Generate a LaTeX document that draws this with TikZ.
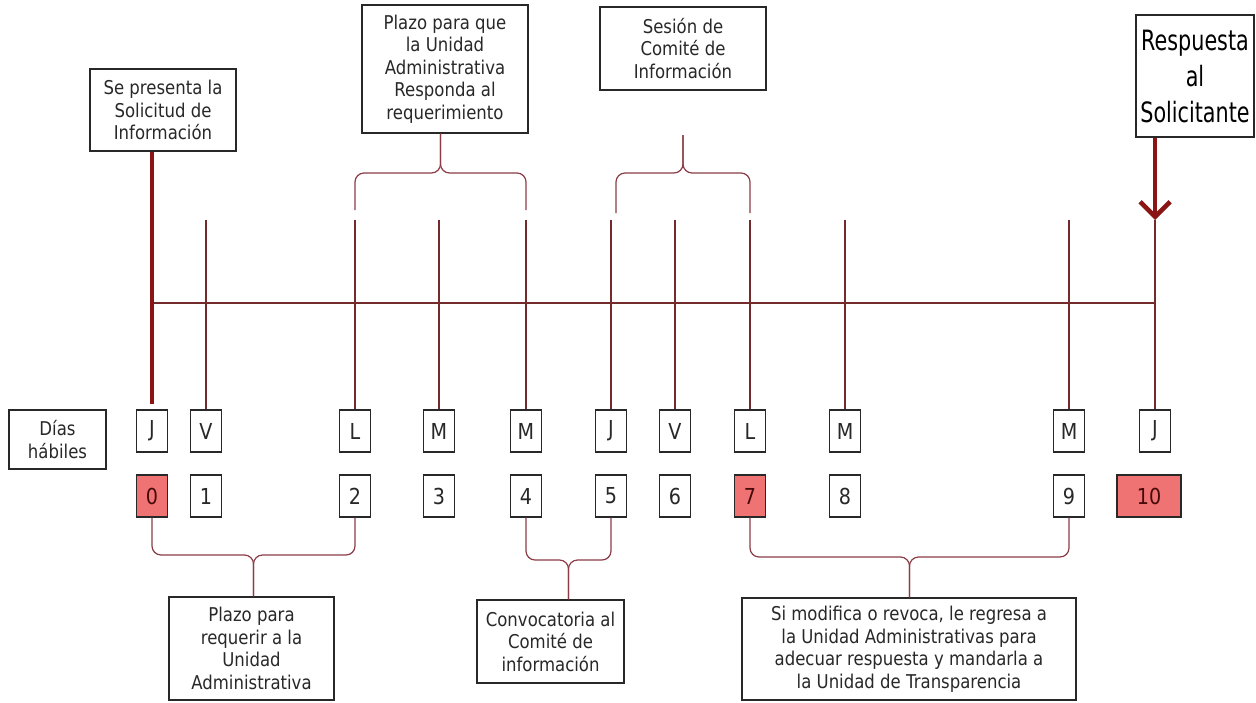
\documentclass[tikz,border=0pt]{standalone}
\usepackage{fontspec}
\setmainfont{DejaVu Sans}[FakeStretch=0.87]
\newfontfamily\bigfont{DejaVu Sans}[FakeStretch=0.74]
\usetikzlibrary{arrows.meta,calc}
\definecolor{boxline}{RGB}{40,40,40}
\definecolor{boxtext}{RGB}{40,40,40}
\definecolor{tickcol}{RGB}{115,42,42}
\definecolor{bracecol}{RGB}{140,60,70}
\definecolor{boldred}{RGB}{139,20,20}
\definecolor{hotfill}{RGB}{240,115,115}
\tikzset{
  labelbox/.style={draw=boxline, line width=1.1pt, fill=white, inner sep=0pt,
    align=center, text=boxtext, font=\fontsize{19}{22.5}\selectfont},
  daybox/.style={draw=boxline, line width=1.1pt, fill=white, inner sep=0pt,
    minimum width=31pt, minimum height=42pt, text=boxtext,
    font=\fontsize{22}{22}\selectfont},
  numplain/.style={daybox},
  numhot/.style={daybox, fill=hotfill, text={rgb,255:red,70;green,10;blue,10}},
  tickline/.style={draw=tickcol, line width=1.2pt},
  braceline/.style={draw=bracecol, line width=1.2pt, rounded corners=9pt},
  boldline/.style={draw=boldred, line width=4.6pt},
}
% a brace: two ends, a tip, and the level of its long bar
\newcommand\drawbrace[4]{%
  \draw[braceline] (#1) -- (#1 |- #4) -- (#3 |- #4) -- (#3);
  \draw[braceline] (#2) -- (#2 |- #4) -- (#3 |- #4) -- (#3);
}
\begin{document}
\begin{tikzpicture}[x=1pt,y=-1pt]
\useasboundingbox (0,0) rectangle (1256,702);

% levels used by the lines
\coordinate (tickTop) at (0,220);
\coordinate (axisY) at (0,303);
\coordinate (upBar) at (0,173);
\coordinate (upEnd) at (0,210);
\coordinate (loBarA) at (0,555);
\coordinate (loBarB) at (0,560);
\coordinate (loBarC) at (0,557);

% weekday and day-number boxes
\foreach \i/\x/\d/\s in {0/152/J/numhot, 1/206/V/numplain, 2/355/L/numplain,
    3/439/M/numplain, 4/526/M/numplain, 5/611/J/numplain, 6/675/V/numplain,
    7/750/L/numhot, 8/845/M/numplain, 9/1069/M/numplain}{
  \node[daybox] (dl\i) at (\x,431) {\d};
  \node[\s] (dn\i) at (\x,496) {\i};
}
\node[daybox] (dl10) at (1155,431) {J};
\node[numhot, minimum width=64pt] (dn10) at (1149,496) {10};

\node[labelbox, minimum width=97pt, minimum height=59pt] (dias) at (57.5,439.5)
  {Días\\hábiles};

% upper labels
\node[labelbox, minimum width=146pt, minimum height=82pt] (tl) at (163,110)
  {Se presenta la\\Solicitud de\\Información};
\node[labelbox, minimum width=166pt, minimum height=128pt] (pl) at (445,69)
  {Plazo para que\\la Unidad\\Administrativa\\Responda al\\requerimiento};
\node[labelbox, minimum width=166pt, minimum height=83pt] (se) at (683,48.5)
  {Sesión de\\Comité de\\Información};
\node[labelbox, minimum width=118pt, minimum height=122pt, text=black,
  font=\bigfont\fontsize{28}{36}\selectfont] (resp) at (1195,76)
  {Respuesta\\al\\Solicitante};

% lower labels
\node[labelbox, minimum width=165pt, minimum height=103pt] (bl) at (251.5,648.5)
  {Plazo para\\requerir a la\\Unidad\\Administrativa};
\node[labelbox, minimum width=147pt, minimum height=83pt] (bm) at (550.5,641.5)
  {Convocatoria al\\Comité de\\información};
\node[labelbox, minimum width=334pt, minimum height=102pt] (br) at (909,649)
  {Si modifica o revoca, le regresa a\\la Unidad Administrativas para\\adecuar respuesta y mandarla a\\la Unidad de Transparencia};

% time axis and day ticks
\draw[tickline] (dl0 |- axisY) -- (dl10 |- axisY);
\foreach \i in {1,...,10}{
  \draw[tickline] (dl\i |- tickTop) -- (dl\i.north);
}
\draw[boldline, shorten >=5pt] (tl.south -| dl0) -- (dl0.north);
\draw[boldline, -{Straight Barb[length=15pt,width=30pt]}] (resp.south -| dl10) -- (dl10 |- tickTop);

% upper braces
\coordinate (b1a) at (dl2 |- upEnd);
\coordinate (b1b) at (dl4 |- upEnd);
\coordinate (b1m) at ($(b1a)!0.5!(b1b)$);
\coordinate (b1t) at (b1m |- pl.south);
\drawbrace{b1a}{b1b}{b1t}{upBar}

\coordinate (b2a) at (616,213);
\coordinate (b2b) at (dl7 |- b2a);
\coordinate (b2t) at (683,135);
\drawbrace{b2a}{b2b}{b2t}{upBar}

% lower braces
\coordinate (b3m) at ($(dn0.south)!0.5!(dn2.south)$);
\coordinate (b3t) at (b3m |- bl.north);
\drawbrace{dn0.south}{dn2.south}{b3t}{loBarA}

\coordinate (b4m) at ($(dn4.south)!0.5!(dn5.south)$);
\coordinate (b4t) at (b4m |- bm.north);
\drawbrace{dn4.south}{dn5.south}{b4t}{loBarB}

\coordinate (b5m) at ($(dn7.south)!0.5!(dn9.south)$);
\coordinate (b5t) at (b5m |- br.north);
\drawbrace{dn7.south}{dn9.south}{b5t}{loBarC}
\end{tikzpicture}
\end{document}
